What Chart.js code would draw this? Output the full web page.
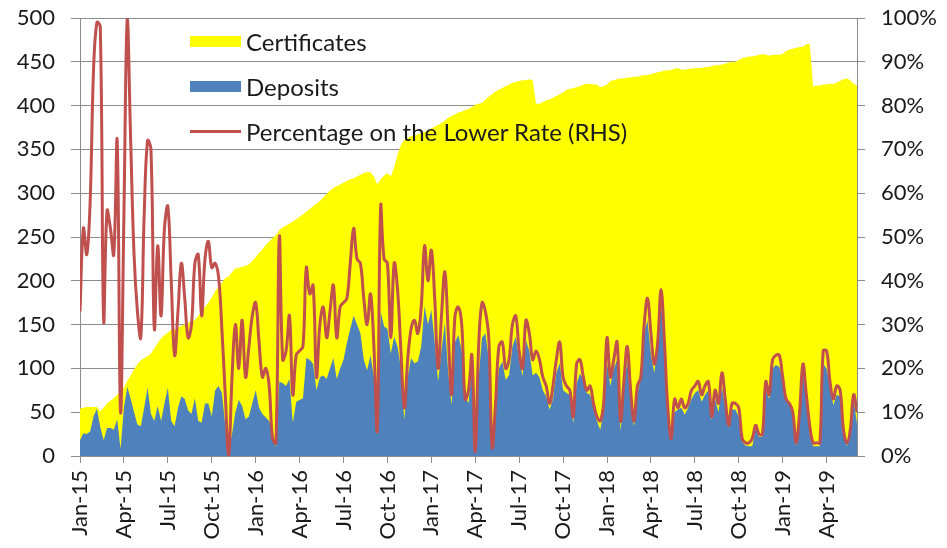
<!DOCTYPE html>
<html>
<head>
<meta charset="utf-8">
<script src="https://cdn.jsdelivr.net/npm/chart.js@4.4.0/dist/chart.umd.min.js"></script>
<style>
  html, body { margin: 0; padding: 0; background: #fff; }
  #wrap { position: relative; width: 947px; height: 548px; }
  #legend { position: absolute; left: 190px; top: 19px; font: 24px Lato, sans-serif; color: #1a1a1a; }
  .item { display: flex; align-items: center; height: 45px; }
  .swatch { width: 51px; height: 11px; margin-right: 5px; }
  .line { width: 51px; height: 3px; margin-right: 5px; }
</style>
</head>
<body>
<div id="wrap">
  <canvas id="chart" width="947" height="548"></canvas>
  <div id="legend"></div>
</div>
<script>
// weekly observations, Jan 2015 onwards; 13 weeks per quarter tick
const quarterLabels = ['Jan-15', 'Apr-15', 'Jul-15', 'Oct-15', 'Jan-16', 'Apr-16', 'Jul-16', 'Oct-16', 'Jan-17',
  'Apr-17', 'Jul-17', 'Oct-17', 'Jan-18', 'Apr-18', 'Jul-18', 'Oct-18', 'Jan-19', 'Apr-19'];
const weeksPerQuarter = 13;

const certificates = [
  54, 55, 56, 56, 56, 56, 51, 55, 60, 63, 66, 70, 74, 78, 86, 92, 99, 105, 109, 112,
  114, 117, 123, 129, 134, 138, 141, 144, 144, 146,
  149, 150, 152, 154, 155, 160, 165, 170, 175, 181, 188, 193, 198, 203, 205, 210, 214, 215, 216, 217,
  219, 223, 227, 232, 236, 241, 245, 249,
  252, 258, 261, 263, 265, 268, 270, 273, 276, 279, 282, 285, 288, 291, 295, 299, 303, 306, 308, 310,
  312, 314, 316, 317, 319, 321, 323, 324, 324, 319,
  310, 316, 320, 323, 319, 330, 344, 355, 361, 363, 365, 366, 367, 369, 370, 372, 374, 376, 378, 380,
  383, 386, 388, 390, 392, 393, 395, 396, 398,
  401, 402, 403, 407, 410, 413, 416, 418, 420, 422, 424, 426, 427, 428, 429, 429, 430, 429, 402, 402,
  404, 406, 407, 409, 411, 413, 415, 418, 419, 420,
  421, 422, 424, 425, 425, 424, 424, 421, 422, 424, 428, 429, 430, 431, 431, 432, 432, 433, 433, 434,
  435, 435, 436, 437, 438, 439, 440, 440, 441, 442,
  443, 441, 441, 442, 442, 443, 443, 443, 444, 444, 445, 446, 446, 447, 448, 449, 450, 450, 452, 454,
  455, 456, 456, 457, 458, 459, 458, 457, 458, 458,
  458, 459, 462, 464, 465, 466, 467, 467, 470, 471, 422, 423, 423, 424, 424, 425, 425, 426, 428, 430,
  431, 429, 425, 423
];

const deposits = [
  18, 26, 25, 28, 45, 54, 33, 18, 32, 32, 30, 42, 8, 55, 79, 65, 50, 36, 34, 55,
  78, 48, 40, 57, 40, 60, 78, 40, 34, 55,
  68, 65, 52, 48, 66, 40, 38, 60, 60, 45, 75, 80, 72, 35, 5, 25, 50, 64, 57, 42,
  45, 60, 75, 55, 48, 44, 40, 26, 10,
  85, 83, 80, 88, 38, 62, 64, 66, 112, 110, 105, 75, 90, 92, 88, 100, 112, 88, 100, 110,
  129, 145, 160, 150, 140, 110, 98, 115, 90, 25,
  165, 148, 145, 117, 136, 125, 100, 41, 90, 112, 106, 108, 125, 171, 150, 167, 130, 85, 120, 152,
  95, 58, 130, 138, 120, 70, 60, 98, 10,
  90, 135, 140, 110, 8, 55, 100, 108, 87, 92, 125, 136, 110, 91, 132, 120, 92, 95, 90, 75,
  68, 53, 65, 95, 106, 75, 72, 70, 37, 83,
  94, 88, 72, 70, 55, 40, 30, 50, 106, 80, 100, 110, 28, 75, 110, 60, 34, 70, 90, 140,
  155, 115, 95, 125, 178, 120, 50, 18, 50,
  53, 55, 47, 55, 65, 72, 75, 62, 70, 75, 41, 65, 50, 79, 55, 32, 53, 53, 45, 16,
  12, 11, 11, 32, 22, 22, 75, 65, 100, 104,
  102, 90, 70, 58, 55, 11, 50, 96, 75, 30, 11, 11, 11, 105, 100, 80, 58, 70, 68, 25,
  11, 30, 64, 37
];

const lowerRatePct = [
  33, 52, 46, 58, 88, 99, 98, 31, 56, 52, 46, 72, 10, 55, 100, 72, 46, 33, 27, 55,
  72, 70, 29, 48, 32, 52, 57, 40, 23, 33,
  44, 36, 27, 30, 44, 46, 32, 45, 49, 43, 44, 41, 29, 14, 0, 18, 30, 20, 31, 18,
  25, 32, 35, 26, 18, 20, 16, 4, 3, 50,
  22, 24, 32, 14, 23, 24, 25, 43, 37, 39, 18, 30, 34, 27, 33, 39, 27, 34, 35, 36,
  44, 52, 45, 44, 36, 30, 37, 25, 6,
  57, 45, 44, 27, 44, 38, 24, 11, 22, 29, 31, 28, 34, 48, 40, 47, 36, 20, 32, 42,
  28, 14, 32, 34, 30, 13, 15, 23,
  1, 25, 35, 33, 27, 2, 12, 25, 26, 20, 22, 30, 32, 24, 20, 31, 28, 22, 24, 22,
  18, 16, 12, 16, 22, 26, 18, 16, 15, 9,
  21, 22, 18, 15, 16, 12, 9, 8, 12, 27, 18, 22, 26, 8, 17, 25, 15, 8, 16, 18,
  30, 36, 28, 21, 26, 38, 26, 11, 4, 13,
  11, 13, 11, 12, 15, 16, 17, 14, 16, 17, 9, 15, 12, 19, 13, 7, 12, 12, 11, 4,
  3, 3, 4, 7, 5, 5, 17, 14, 22, 23,
  23, 18, 13, 12, 10, 3, 10, 21, 14, 7, 3, 3, 3, 24, 24, 17, 13, 16, 15, 6,
  3, 6, 14, 10
];

const gridColor = '#8c8c8c';
const toPoints = arr => arr.map((y, i) => ({ x: i, y: y }));

Chart.defaults.font.family = 'Lato, sans-serif';
Chart.defaults.font.size = 22;
Chart.defaults.color = '#1a1a1a';

const chart = new Chart(document.getElementById('chart'), {
  type: 'line',
  data: {
    datasets: [
      {
        label: 'Percentage on the Lower Rate (RHS)',
        data: toPoints(lowerRatePct),
        yAxisID: 'y1',
        borderColor: '#C0504D',
        borderWidth: 3,
        tension: 0.4,
        pointRadius: 0,
        fill: false,
        order: 0
      },
      {
        label: 'Deposits',
        data: toPoints(deposits),
        yAxisID: 'y',
        backgroundColor: '#4F81BD',
        borderColor: 'rgba(0,0,0,0)',
        borderWidth: 0,
        pointRadius: 0,
        fill: 'origin',
        order: 1
      },
      {
        label: 'Certificates',
        data: toPoints(certificates),
        yAxisID: 'y',
        backgroundColor: '#FFFF00',
        borderColor: 'rgba(0,0,0,0)',
        borderWidth: 0,
        pointRadius: 0,
        fill: 'origin',
        order: 2
      }
    ]
  },
  options: {
    responsive: false,
    animation: false,
    devicePixelRatio: 1,
    layout: { padding: { top: 18 } },
    plugins: { legend: { display: false }, tooltip: { enabled: false } },
    scales: {
      x: {
        type: 'linear',
        min: 0,
        max: certificates.length - 1,
        afterBuildTicks: s => { s.ticks = quarterLabels.map((_, k) => ({ value: k * weeksPerQuarter })); },
        afterFit: s => { s.height = 92; },
        grid: { drawOnChartArea: false, color: gridColor, tickLength: 7 },
        border: { color: gridColor },
        ticks: {
          autoSkip: false,
          minRotation: 90,
          maxRotation: 90,
          padding: 7,
          callback: v => quarterLabels[Math.round(v / weeksPerQuarter)]
        }
      },
      y: {
        position: 'left',
        min: 0,
        max: 500,
        // fixed axis width; label padding must not push the plot top down
        afterFit: s => { s.width = 80; s.paddingTop = 0; s.paddingBottom = 0; },
        grid: { color: gridColor, tickLength: 9 },
        border: { color: gridColor },
        ticks: { stepSize: 50, padding: 16 }
      },
      y1: {
        position: 'right',
        min: 0,
        max: 100,
        afterFit: s => { s.width = 90; s.paddingTop = 0; s.paddingBottom = 0; },
        grid: { drawOnChartArea: false, color: gridColor, tickLength: 8 },
        border: { color: gridColor },
        ticks: { stepSize: 10, padding: 16, callback: v => v + '%' }
      }
    }
  }
});

// legend in the plot, one entry per line, certificates first
const legend = document.getElementById('legend');
[2, 1, 0].forEach(idx => {
  const ds = chart.data.datasets[idx];
  const row = document.createElement('div');
  row.className = 'item';
  const mark = document.createElement('span');
  mark.className = ds.fill ? 'swatch' : 'line';
  mark.style.background = ds.fill ? ds.backgroundColor : ds.borderColor;
  const txt = document.createElement('span');
  txt.textContent = ds.label;
  row.appendChild(mark);
  row.appendChild(txt);
  legend.appendChild(row);
});
</script>
</body>
</html>
